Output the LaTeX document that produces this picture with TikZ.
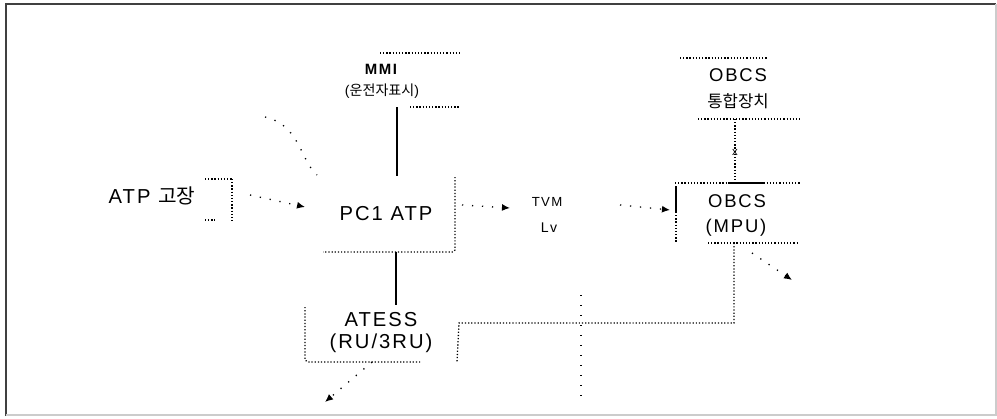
\documentclass[tikz,border=0pt]{standalone}
\usepackage{fontspec}
\setmainfont{Liberation Sans}[LetterSpace=10]
\newfontfamily\krfont{Noto Sans CJK KR}
\usetikzlibrary{arrows.meta}
\newcommand{\kr}[1]{{\krfont #1}}

\begin{document}
\begin{tikzpicture}[
    x=0.02cm, y=-0.02cm,
    lbl/.style={inner sep=0pt, align=center, font=\fontsize{11.5}{13}\selectfont},
    mid/.style={inner sep=0pt, align=center, font=\fontsize{10.5}{12}\selectfont},
    small/.style={inner sep=0pt, align=center, font=\fontsize{8}{9}\selectfont},
    dotline/.style={line width=0.75pt, dash pattern=on 0.7pt off 1.1pt},
    faint/.style={line width=0.75pt, dash pattern=on 0.7pt off 5pt},
    solidline/.style={line width=0.9pt},
    arrow/.style={-{Latex[length=1.6mm,width=1.4mm]}}
  ]
    \useasboundingbox (0,0) rectangle (997,419);
    % frame
    \draw[black!75, line width=1.6pt] (6,416) -- (6,4) -- (996,4);
    \draw[gray!40, line width=0.6pt] (996,4) -- (996,415) -- (6,415);

    % texts
    \node[lbl] (fail) at (152,196) {ATP \kr{고장}};
    \node[small, font=\fontsize{8.5}{9}\selectfont\bfseries] (mmi) at (381,69) {MMI};
    \node[small] (mmisub) at (382,91) {(\kr{운전자표시})};
    \node[lbl] (pc1) at (386,214) {PC1 ATP};
    \node[small, font=\fontsize{7.5}{9}\selectfont] (tvm) at (547,202) {TVM};
    \node[small] (lv) at (549,228) {Lv};
    \node[mid] (mpu) at (737,201) {OBCS};
    \node[mid] (mpusub) at (736,228) {(MPU)};
    \node[mid] (obcs) at (738,75) {OBCS};
    \node[small, font=\fontsize{9.5}{11}\selectfont] (obcssub) at (738,101) {\kr{통합장치}};
    \node[lbl] (atess) at (381,320) {ATESS};
    \node[lbl] (atesssub) at (381,343) {(RU/3RU)};

    % box edges
    \coordinate (mmiA) at (397,107);
    \coordinate (pc1T) at (397,176);
    \coordinate (pc1B) at (396,252);
    \coordinate (atessT) at (396,305);
    \coordinate (obcsB) at (735,119);
    \coordinate (mpuT) at (735,183);
    \coordinate (mpuB) at (734,243);
    \coordinate (atessR) at (457,362);
    \draw[dotline] (380,53) -- (460,53);
    \draw[dotline] (410,107) -- (460,107);
    \draw[dotline] (455,177) -- (455,250) -- (453,252) -- (323,252);
    \draw[dotline] (232,179) -- (232,221);
    \draw[dotline] (205,179) -- (232,179);
    \draw[dotline] (205,220) -- (215,220);
    \draw[dotline] (305,307) -- (305,360) -- (308,362) -- (420,362);
    \draw[dotline] (680,58) -- (768,58);
    \draw[dotline] (698,119) -- (800,119);
    \draw[dotline] (675,183) -- (800,183);
    \draw[solidline] (728,183) -- (765,183);
    \draw[solidline] (676,186) -- (676,212);
    \draw[dotline] (676,212) -- (676,243);
    \draw[dotline] (708,243) -- (797,243);

    % connectors
    \draw[solidline] (mmiA) -- (pc1T);
    \draw[line width=1.6pt] (pc1B) -- (atessT);
    \draw[dotline] (obcsB) -- (mpuT);
    \node[small, font=\fontsize{6.5}{7}\selectfont] (cut) at (735,152) {x};
    \draw[dotline] (mpuB) -- (734,323) -- (459,323) -- (atessR);
    \draw[faint] (581,295) -- (581,400);
    \draw[faint, arrow] (250,195) -- (305,207);
    \draw[faint, arrow] (462,205) -- (510,208);
    \draw[faint, arrow] (620,205) -- (670,210);
    \draw[faint] (265,117) .. controls (300,125) and (300,160) .. (317,175);
    \draw[faint, arrow] (372,362) -- (325,402);
    \draw[faint, arrow] (752,253) -- (792,280);
  \end{tikzpicture}
\end{document}
